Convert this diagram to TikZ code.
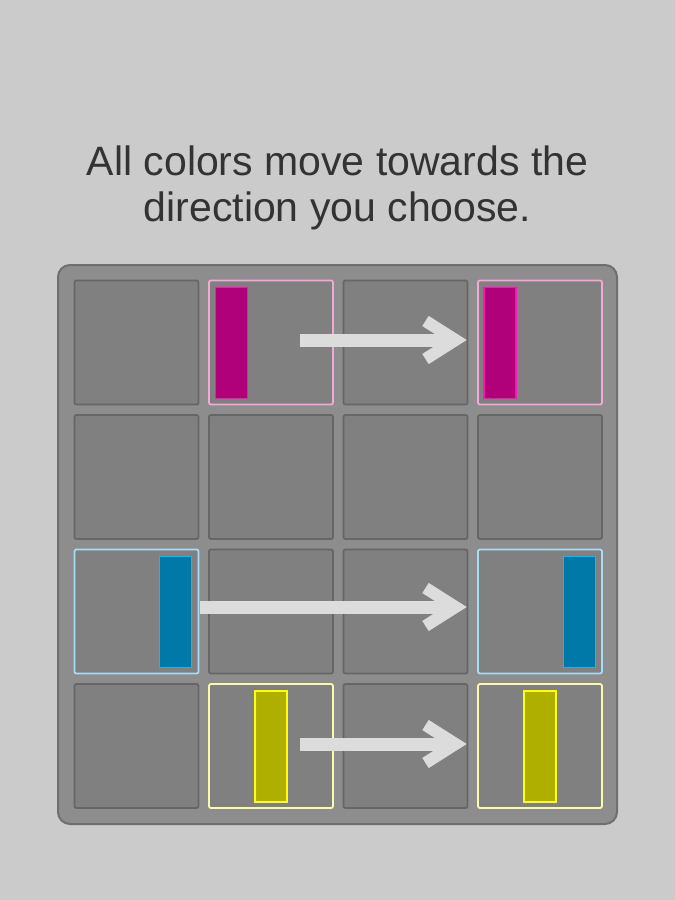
\documentclass[tikz,border=0pt]{standalone}
\usepackage{fontspec}
\setmainfont{Liberation Sans}
\begin{document}
\definecolor{bgc}{HTML}{CBCBCB}
\definecolor{boardc}{HTML}{8D8D8D}
\definecolor{boardedge}{HTML}{6F6F6F}
\definecolor{cellc}{HTML}{808080}
\definecolor{celledge}{HTML}{666666}
\definecolor{txtc}{HTML}{333333}
\definecolor{pinkedge}{HTML}{F5A8D8}
\definecolor{blueedge}{HTML}{A8DCF5}
\definecolor{yelledge}{HTML}{FAFAA8}
\definecolor{magfill}{HTML}{B0007A}
\definecolor{magline}{HTML}{FF14B4}
\definecolor{bluefill}{HTML}{0078A8}
\definecolor{blueline}{HTML}{14B8F0}
\definecolor{yelfill}{HTML}{AFAF00}
\definecolor{yelline}{HTML}{FFFF10}
\definecolor{arrowc}{HTML}{DCDCDC}
\begin{tikzpicture}[x=1pt,y=-1pt,
  cell/.style={draw=celledge,fill=cellc,line width=1.8pt,rounded corners=2pt,
    minimum width=124pt,minimum height=124pt,inner sep=0pt,outer sep=0pt},
  pinkcell/.style={cell,draw=pinkedge},
  bluecell/.style={cell,draw=blueedge},
  yelcell/.style={cell,draw=yelledge},
  bar/.style={minimum width=32pt,minimum height=111pt,inner sep=0pt,outer sep=0pt,line width=1.6pt},
  magbar/.style={bar,fill=magfill,draw=magline},
  bluebar/.style={bar,fill=bluefill,draw=blueline},
  yelbar/.style={bar,fill=yelfill,draw=yelline},
  shaft/.style={draw=arrowc,line width=13pt},
  chev/.style={draw=arrowc,line width=12pt,miter limit=10}
]
\useasboundingbox (0,0) rectangle (675,900);
\fill[bgc] (0,0) rectangle (675,900);

% title
\node[text=txtc,font=\fontsize{41}{46}\selectfont,align=center,anchor=base] (title) at (337.5,221)
  {All colors move towards the\\direction you choose.};

% board
\node[draw=boardedge,fill=boardc,line width=2pt,rounded corners=12pt,
  minimum width=559pt,minimum height=559pt,inner sep=0pt] (board) at (337.5,544.5) {};

% cells: columns x centers, rows y centers
\def\cA{136.5}\def\cB{271}\def\cC{405.5}\def\cD{540}
\def\rA{342.5}\def\rB{477}\def\rC{611.5}\def\rD{746}
\node[cell] (c11) at (\cA,\rA) {};
\node[pinkcell] (c12) at (\cB,\rA) {};
\node[cell] (c13) at (\cC,\rA) {};
\node[pinkcell] (c14) at (\cD,\rA) {};
\node[cell] (c21) at (\cA,\rB) {};
\node[cell] (c22) at (\cB,\rB) {};
\node[cell] (c23) at (\cC,\rB) {};
\node[cell] (c24) at (\cD,\rB) {};
\node[bluecell] (c31) at (\cA,\rC) {};
\node[cell] (c32) at (\cB,\rC) {};
\node[cell] (c33) at (\cC,\rC) {};
\node[bluecell] (c34) at (\cD,\rC) {};
\node[cell] (c41) at (\cA,\rD) {};
\node[yelcell] (c42) at (\cB,\rD) {};
\node[cell] (c43) at (\cC,\rD) {};
\node[yelcell] (c44) at (\cD,\rD) {};

% bars
\node[magbar] (m1) at (231.5,343) {};
\node[magbar] (m2) at (500,343) {};
\node[bluebar] (b1) at (175.5,612) {};
\node[bluebar] (b2) at (579.5,612) {};
\node[yelbar] (y1) at (271,746.5) {};
\node[yelbar] (y2) at (540,746.5) {};

% arrows
\coordinate (s1) at (300,340);
\coordinate (s3) at (200,607);
\coordinate (s4) at (300,744);
\coordinate (t1) at (c13.east |- s1);
\coordinate (t3) at (c33.east |- s3);
\coordinate (t4) at (c43.east |- s4);
\foreach \s/\t in {s1/t1,s3/t3,s4/t4}{
  \draw[shaft] (\s) -- ([xshift=-12pt]\t);
  \draw[chev] ([xshift=-42pt,yshift=-19pt]\t) -- ([xshift=-12pt]\t) -- ([xshift=-42pt,yshift=19pt]\t);
}
\end{tikzpicture}
\end{document}
